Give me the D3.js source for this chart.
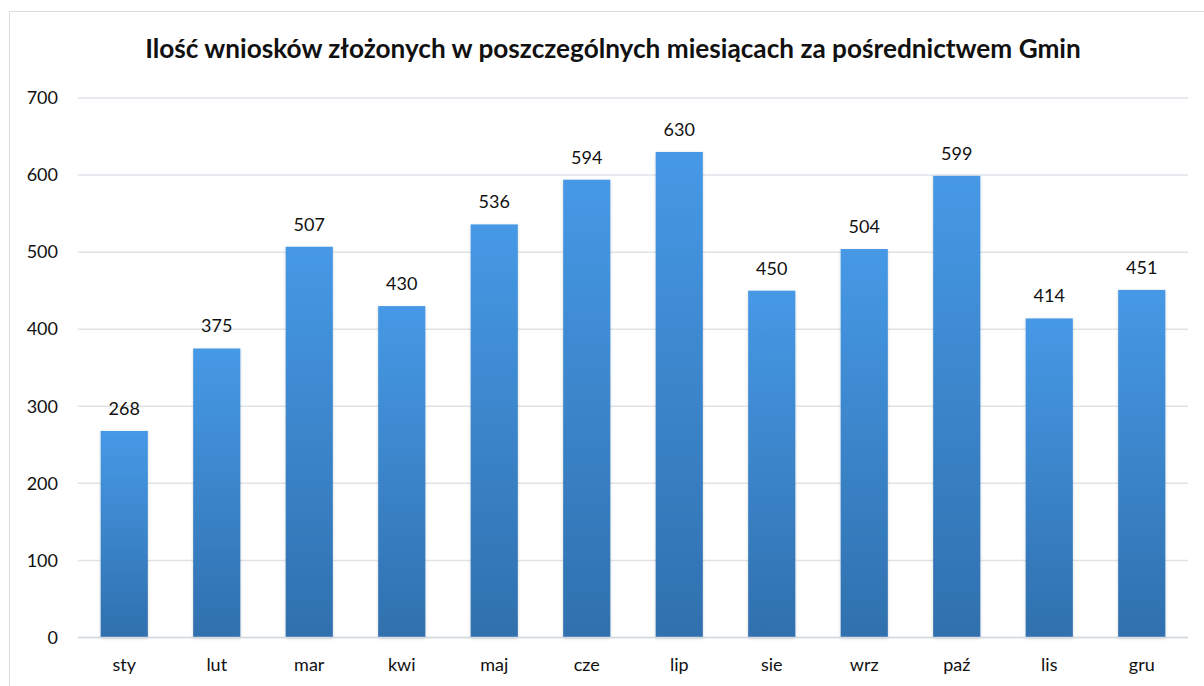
<!DOCTYPE html>
<html lang="pl">
<head>
<meta charset="UTF-8">
<title>Gmin</title>
<script src="https://cdn.jsdelivr.net/npm/d3@7/dist/d3.min.js"></script>
<style>
  body { margin: 0; background: #fff; }
  text { font-family: Lato, "Open Sans", sans-serif; fill: #111; }
  .grid line { stroke: #dfe3e8; stroke-width: 1.5; }
  .axis path, .axis line { display: none; }
</style>
</head>
<body>
<div id="chart"></div>
<script>
  var months = ["sty", "lut", "mar", "kwi", "maj", "cze", "lip", "sie", "wrz", "paź", "lis", "gru"];
  var counts = [268, 375, 507, 430, 536, 594, 630, 450, 504, 599, 414, 451];
  var yTicks = [0, 100, 200, 300, 400, 500, 600, 700];
  var title = "Ilość wniosków złożonych w poszczególnych miesiącach za pośrednictwem Gmin";

  var width = 1204, height = 686;
  var plot = {left: 78, right: 1188, top: 98, bottom: 637.5};

  var svg = d3.select("#chart").append("svg")
      .attr("width", width)
      .attr("height", height);

  // gradient + soft shadow for the bars
  var defs = svg.append("defs");
  var grad = defs.append("linearGradient")
      .attr("id", "barGrad")
      .attr("x1", 0).attr("y1", 0).attr("x2", 0).attr("y2", 1);
  grad.append("stop").attr("offset", "0%").attr("stop-color", "#4699e6");
  grad.append("stop").attr("offset", "100%").attr("stop-color", "#3070ae");

  var shadow = defs.append("filter").attr("id", "shadow")
      .attr("x", "-20%").attr("y", "-5%").attr("width", "140%").attr("height", "110%");
  shadow.append("feDropShadow")
      .attr("dx", 0).attr("dy", 1).attr("stdDeviation", 1.5)
      .attr("flood-color", "#000").attr("flood-opacity", 0.18);

  // chart border (only top and left visible in the frame)
  svg.append("rect")
      .attr("x", 9.5).attr("y", 11.5)
      .attr("width", 1300).attr("height", 800)
      .attr("fill", "none")
      .attr("stroke", "#d9dee4")
      .attr("stroke-width", 1);

  var x = d3.scaleBand()
      .domain(months)
      .range([plot.left, plot.right])
      .paddingInner(0.49)
      .paddingOuter(0.245);

  var y = d3.scaleLinear()
      .domain([0, 700])
      .range([plot.bottom, plot.top]);

  // gridlines
  svg.append("g")
      .attr("class", "grid")
      .selectAll("line")
      .data(yTicks)
      .enter().append("line")
        .attr("x1", plot.left)
        .attr("x2", plot.right)
        .attr("y1", function(d) { return y(d); })
        .attr("y2", function(d) { return y(d); });

  // y axis labels
  var yAxis = d3.axisLeft(y).tickValues(yTicks).tickSize(0).tickPadding(0);
  svg.append("g")
      .attr("class", "axis")
      .attr("transform", "translate(58,0)")
      .call(yAxis)
      .selectAll("text")
        .style("font-size", "18px")
        .attr("fill", "#111");

  // bars
  svg.append("g").selectAll("rect")
      .data(counts)
      .enter().append("rect")
        .attr("x", function(d, i) { return x(months[i]); })
        .attr("y", function(d) { return y(d); })
        .attr("width", x.bandwidth())
        .attr("height", function(d) { return y(0) - y(d); })
        .attr("fill", "url(#barGrad)")
        .attr("filter", "url(#shadow)");

  // baseline
  svg.append("line")
      .attr("x1", plot.left).attr("x2", plot.right)
      .attr("y1", y(0)).attr("y2", y(0))
      .attr("stroke", "#d4d9e0")
      .attr("stroke-width", 1.5);

  // value labels
  svg.append("g").selectAll("text")
      .data(counts)
      .enter().append("text")
        .attr("x", function(d, i) { return x(months[i]) + x.bandwidth() / 2; })
        .attr("y", function(d) { return y(d) - 16; })
        .attr("text-anchor", "middle")
        .style("font-size", "18px")
        .text(function(d) { return d; });

  // x axis labels
  var xAxis = d3.axisBottom(x).tickSize(0).tickPadding(0);
  svg.append("g")
      .attr("class", "axis")
      .attr("transform", "translate(0," + (y(0) + 21) + ")")
      .call(xAxis)
      .selectAll("text")
        .style("font-size", "18px")
        .attr("fill", "#111");

  // title
  svg.append("text")
      .attr("x", 613)
      .attr("y", 58)
      .attr("text-anchor", "middle")
      .style("font-size", "26.2px")
      .style("font-weight", "bold")
      .text(title);
</script>
</body>
</html>
